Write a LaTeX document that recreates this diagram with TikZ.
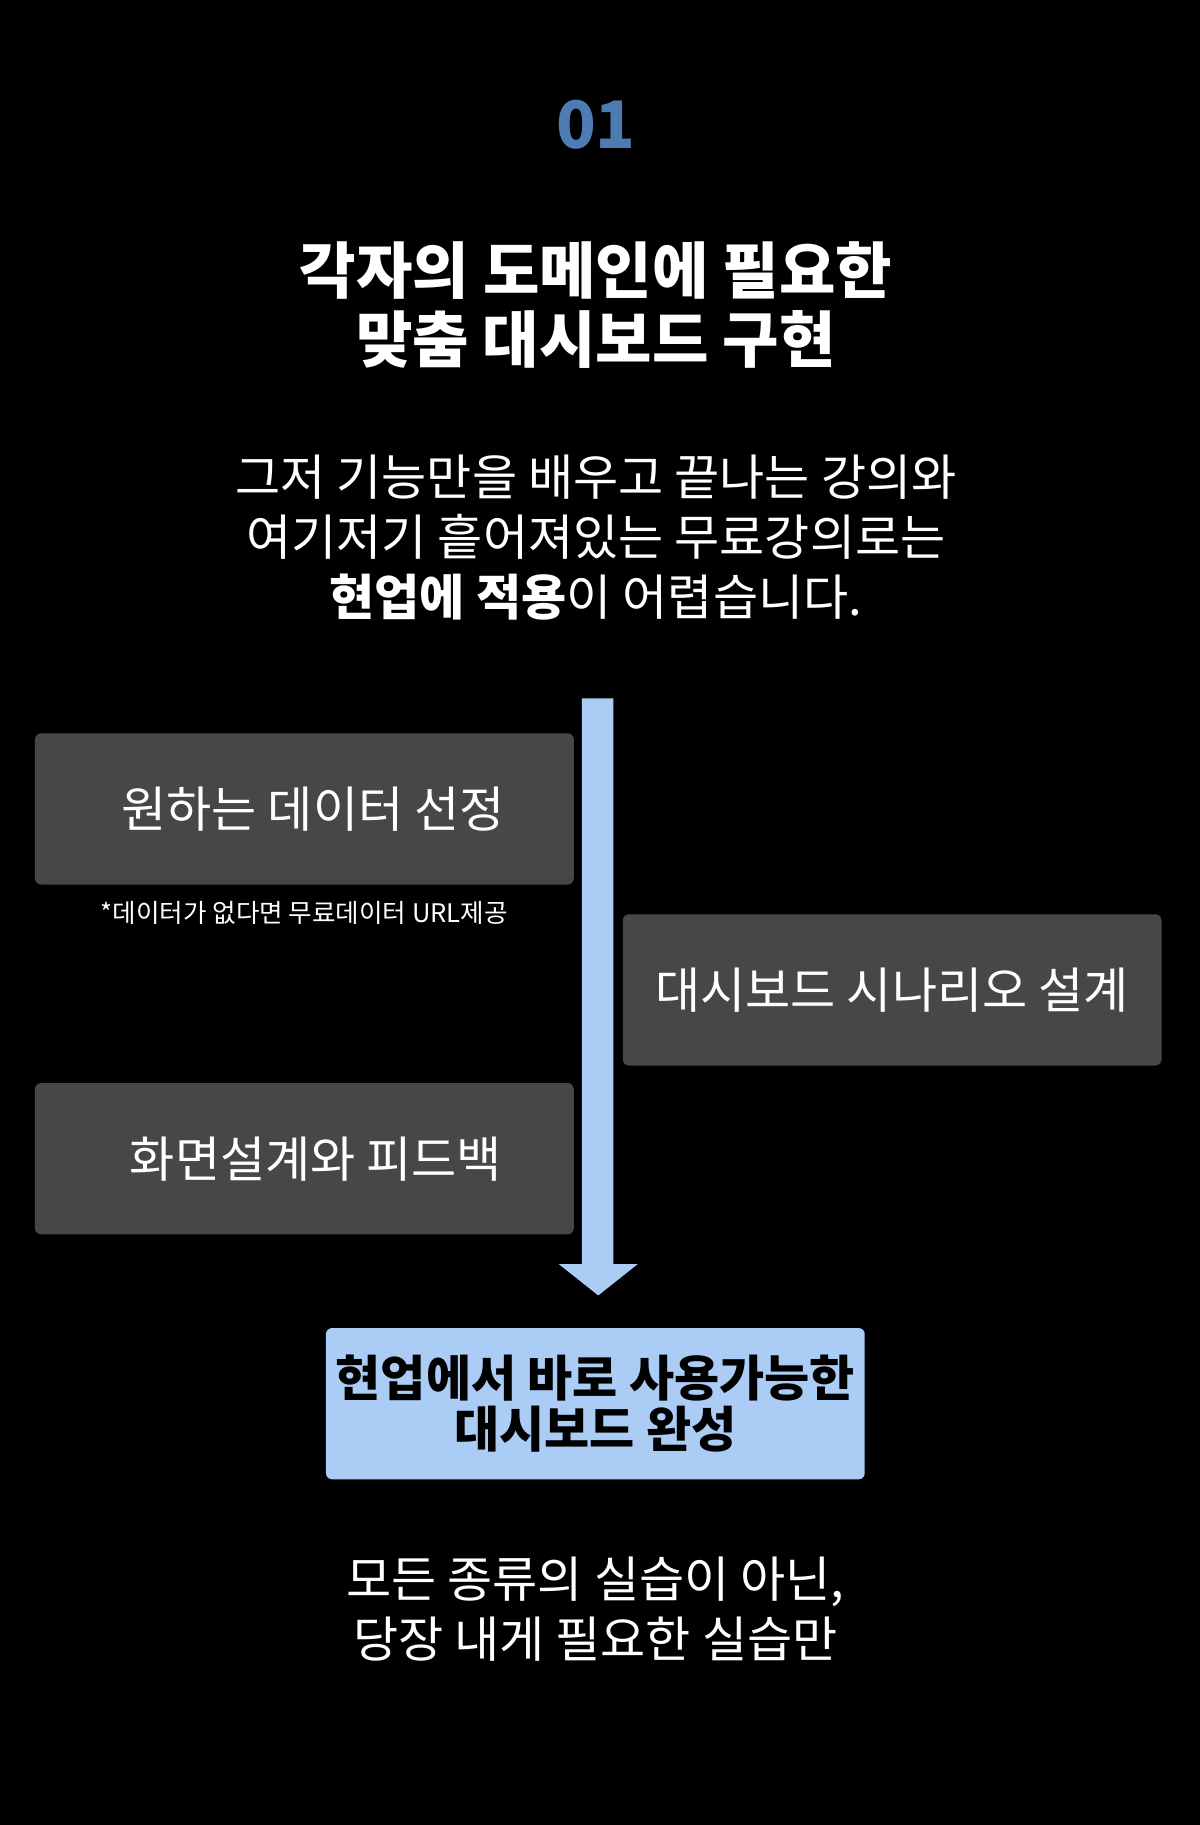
\documentclass[tikz,border=0pt]{standalone}
\usepackage{fontspec}
\setmainfont{Noto Sans CJK KR}
\usetikzlibrary{positioning}
\definecolor{boxgray}{HTML}{474747}
\definecolor{lightblue}{HTML}{AACCF5}
\definecolor{numblue}{HTML}{4D7BB3}
\tikzset{
  step box/.style={fill=boxgray, rounded corners=3pt, minimum width=9.26cm, minimum height=2.6cm, text=white, font=\fontsize{24}{28}\selectfont},
  body text/.style={text=white, align=center, font=\fontsize{24}{29.5}\selectfont},
}
\begin{document}
\begin{tikzpicture}[x=0.02cm, y=-0.02cm]

\useasboundingbox[fill=black] (0,0) rectangle (1031,1568);

\node [text=numblue, font=\fontsize{32}{36}\bfseries\selectfont] (num) at (512,107) {01};
\node [text=white, align=center, font=\fontsize{30}{34}\bfseries\selectfont] (title) at (512,262) {각자의 도메인에 필요한\\맞춤 대시보드 구현};
\node [body text] (intro) at (512,462) {그저 기능만을 배우고 끝나는 강의와\\여기저기 흩어져있는 무료강의로는\\\textbf{현업에 적용}이 어렵습니다.};

% arrow
\fill [lightblue] (500,600) -- (527,600) -- (527,1086) -- (548,1086) -- (514,1113) -- (480,1086) -- (500,1086) -- cycle;

\node [step box] (data) at (261.5,695) {\hspace*{0.3cm}원하는 데이터 선정};
\node [text=white, font=\fontsize{12.5}{15}\selectfont, below=0.15cm of data] (note) {*데이터가 없다면 무료데이터 URL제공};
\node [step box] (scenario) at (766.5,850.5) {대시보드 시나리오 설계};
\node [step box] (screen) at (261.5,995.5) {\hspace*{0.4cm}화면설계와 피드백};
\node [step box, fill=lightblue, text=black, align=center, font=\fontsize{24}{25}\bfseries\selectfont] (done) at (511.5,1206) {현업에서 바로 사용가능한\\대시보드 완성};

\node [body text, below=1.2cm of done] (outro) {모든 종류의 실습이 아닌,\\당장 내게 필요한 실습만};

\end{tikzpicture}
\end{document}
